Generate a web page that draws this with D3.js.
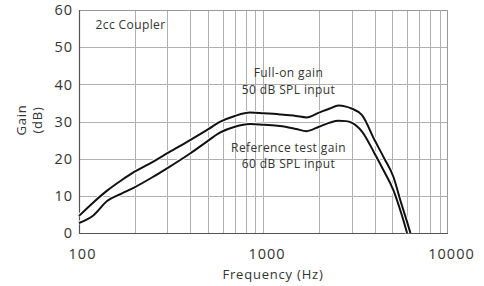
<!DOCTYPE html>
<html>
<head>
<meta charset="utf-8">
<script src="https://cdn.jsdelivr.net/npm/d3@7"></script>
<style>
  html, body { margin: 0; padding: 0; background: #fff; }
  svg { display: block; font-family: "Open Sans", "DejaVu Sans", sans-serif; }
</style>
</head>
<body>
<svg id="chart" width="484" height="286"></svg>
<script>
(function () {
  'use strict';

  // frequency points (Hz)
  var freqs = [100, 120, 142, 170, 200, 250, 300, 400, 500, 580, 700, 845, 1000,
    1228, 1500, 1711, 2000, 2287, 2546, 2800, 3000, 3420, 4000, 4500, 5050, 5580, 6000, 6255];
  // full-on gain, 50 dB SPL input
  var fullOn = [4.6, 8.3, 11.4, 14.2, 16.5, 19.1, 21.4, 25.0, 27.9, 29.9, 31.5, 32.4, 32.2,
    31.9, 31.5, 31.1, 32.4, 33.5, 34.3, 34.0, 33.5, 31.7, 25.0, 20.2, 15.2, 8.0, 3.0, 0];
  // reference test gain, 60 dB SPL input (ends at 6000 Hz)
  var refTest = [2.7, 4.8, 8.6, 10.6, 12.3, 15.0, 17.4, 21.4, 24.8, 27.0, 28.6, 29.3, 29.1,
    28.8, 28.0, 27.4, 28.6, 29.7, 30.2, 30.1, 29.7, 27.3, 21.4, 16.6, 11.6, 5.3, 0, null];

  var xTicks = [100, 1000, 10000];
  var xGrid = [200, 300, 400, 500, 600, 700, 800, 900, 2000, 3000, 4000, 5000, 6000, 7000, 8000, 9000];
  var yTicks = [0, 10, 20, 30, 40, 50, 60];

  var margin = { top: 10, left: 79, right: 36, bottom: 53 };
  var svg = d3.select('#chart');
  var width = 484 - margin.left - margin.right;
  var height = 286 - margin.top - margin.bottom;

  var x = d3.scaleLog().domain([100, 10000]).range([0, width]);
  var y = d3.scaleLinear().domain([0, 60]).range([height, 0]);

  var g = svg.append('g')
    .attr('transform', 'translate(' + margin.left + ',' + margin.top + ')');

  // grid
  g.selectAll('.vgrid')
    .data(xGrid.concat([1000]))
    .enter().append('line')
    .attr('x1', function (d) { return Math.round(x(d)) + 0.5; })
    .attr('x2', function (d) { return Math.round(x(d)) + 0.5; })
    .attr('y1', 0).attr('y2', height)
    .attr('stroke', '#b0b0b0').attr('stroke-width', 1);

  g.selectAll('.hgrid')
    .data(yTicks.slice(1, -1))
    .enter().append('line')
    .attr('x1', 0).attr('x2', width)
    .attr('y1', function (d) { return Math.round(y(d)) + 0.5; })
    .attr('y2', function (d) { return Math.round(y(d)) + 0.5; })
    .attr('stroke', '#b0b0b0').attr('stroke-width', 1);

  // frame: top + right lighter, left + bottom dark
  g.append('line').attr('x1', 0).attr('x2', width).attr('y1', 0.5).attr('y2', 0.5)
    .attr('stroke', '#999');
  g.append('line').attr('x1', width - 0.5).attr('x2', width - 0.5).attr('y1', 0).attr('y2', height)
    .attr('stroke', '#999');
  g.append('line').attr('x1', 0).attr('x2', width).attr('y1', height + 0.5).attr('y2', height + 0.5)
    .attr('stroke', '#555').attr('stroke-width', 1.2);
  g.append('line').attr('x1', 0.5).attr('x2', 0.5).attr('y1', 0).attr('y2', height + 1)
    .attr('stroke', '#555').attr('stroke-width', 1.2);

  // curves
  var line = d3.line()
    .defined(function (d) { return d[1] !== null; })
    .x(function (d) { return x(d[0]); })
    .y(function (d) { return y(d[1]); })
    .curve(d3.curveMonotoneX);

  var series = [d3.zip(freqs, fullOn), d3.zip(freqs, refTest)];

  g.selectAll('.halo')
    .data(series)
    .enter().append('path')
    .attr('d', line)
    .attr('fill', 'none')
    .attr('stroke', '#fff')
    .attr('stroke-width', 4);

  g.selectAll('.curve')
    .data(series)
    .enter().append('path')
    .attr('d', line)
    .attr('fill', 'none')
    .attr('stroke', '#111')
    .attr('stroke-width', 2)
    .attr('stroke-linejoin', 'round');

  // tick labels
  g.selectAll('.ylab')
    .data(yTicks)
    .enter().append('text')
    .attr('x', -6)
    .attr('y', function (d) { return y(d); })
    .attr('dy', '0.36em')
    .attr('text-anchor', 'end')
    .attr('font-size', 14.5)
    .attr('letter-spacing', 1)
    .attr('fill', '#333')
    .text(function (d) { return d; });

  g.selectAll('.xlab')
    .data(xTicks)
    .enter().append('text')
    .attr('x', function (d) { return x(d) + 3.5; })
    .attr('y', height + 21)
    .attr('dy', '0.36em')
    .attr('text-anchor', 'middle')
    .attr('font-size', 14.5)
    .attr('letter-spacing', 1)
    .attr('fill', '#333')
    .text(function (d) { return d; });

  // axis titles
  g.append('text')
    .attr('x', 194).attr('y', height + 41)
    .attr('dy', '0.36em')
    .attr('text-anchor', 'middle')
    .attr('font-size', 13)
    .attr('letter-spacing', 0.8)
    .attr('fill', '#333')
    .text('Frequency (Hz)');

  svg.append('text')
    .attr('transform', 'translate(21,120) rotate(-90)')
    .attr('text-anchor', 'middle')
    .attr('dy', '0.36em')
    .attr('font-size', 13)
    .attr('letter-spacing', 0.8)
    .attr('fill', '#333')
    .text('Gain');
  svg.append('text')
    .attr('transform', 'translate(37,120) rotate(-90)')
    .attr('text-anchor', 'middle')
    .attr('dy', '0.36em')
    .attr('font-size', 13)
    .attr('letter-spacing', 0.8)
    .attr('fill', '#333')
    .text('(dB)');

  // annotations
  var notes = [
    { t: '2cc Coupler', x: 16.5, y: 15, anchor: 'start' },
    { t: 'Full-on gain', x: 209.5, y: 63, anchor: 'middle' },
    { t: '50 dB SPL input', x: 209.5, y: 79.5, anchor: 'middle' },
    { t: 'Reference test gain', x: 209.5, y: 137.5, anchor: 'middle' },
    { t: '60 dB SPL input', x: 209.5, y: 153.5, anchor: 'middle' }
  ];
  g.selectAll('.note')
    .data(notes)
    .enter().append('text')
    .attr('x', function (d) { return d.x; })
    .attr('y', function (d) { return d.y; })
    .attr('dy', '0.36em')
    .attr('text-anchor', function (d) { return d.anchor; })
    .attr('font-size', 12)
    .attr('letter-spacing', 0.4)
    .attr('fill', '#333')
    .text(function (d) { return d.t; });
}());
</script>
</body>
</html>
